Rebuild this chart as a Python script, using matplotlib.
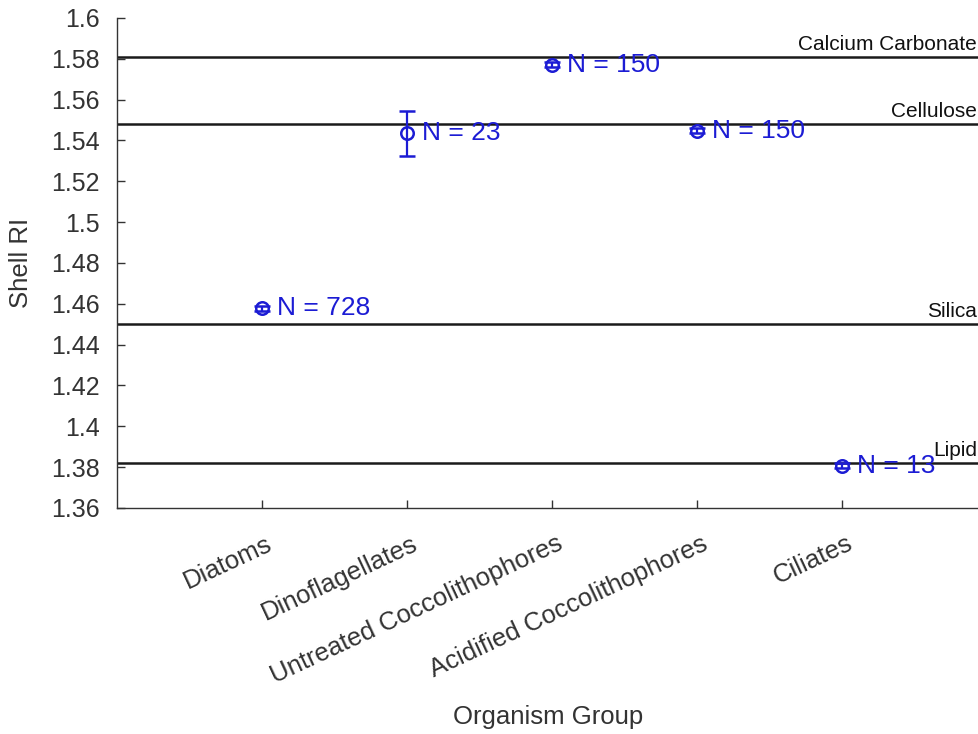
import matplotlib
matplotlib.use('Agg')
import matplotlib.pyplot as plt
import matplotlib.transforms as mtransforms
from matplotlib.ticker import FuncFormatter

plt.rcParams['font.family'] = ['Liberation Sans', 'DejaVu Sans']

groups = ['Diatoms', 'Dinoflagellates', 'Untreated Coccolithophores',
          'Acidified Coccolithophores', 'Ciliates']
mean_ri = [1.4577, 1.5435, 1.5770, 1.5448, 1.3807]
err_ri = [0.0012, 0.0110, 0.0012, 0.0012, 0.0012]
n_labels = ['N = 728', 'N = 23', 'N = 150', 'N = 150', 'N = 13']

ref_names = ['Calcium Carbonate', 'Cellulose', 'Silica', 'Lipid']
ref_ri = [1.581, 1.548, 1.450, 1.382]

blue = '#1c1cd4'
grey = '#333333'

fig = plt.figure(figsize=(9.79, 7.34), dpi=100)
ax = fig.add_axes([0.1195, 0.308, 0.8805, 0.6675])

for name, val in zip(ref_names, ref_ri):
    ax.axhline(val, color='#1a1a1a', lw=1.8, zorder=1)
    ax.text(5.93, val + 0.0015, name, ha='right', va='bottom', fontsize=15,
            color='#111111')

x = list(range(1, len(groups) + 1))
ax.errorbar(x, mean_ri, yerr=err_ri, fmt='o', mfc='none', mec=blue, ms=9,
            mew=1.8, ecolor=blue, elinewidth=1.6, capsize=6, capthick=1.6,
            zorder=3)
for xi, yi, lab in zip(x, mean_ri, n_labels):
    ax.text(xi + 0.1, yi, lab, color=blue, fontsize=19, ha='left',
            va='center', zorder=4)

ax.set_xlim(0, 5.943)
ax.set_ylim(1.36, 1.6)
ax.set_yticks([1.36 + 0.02 * i for i in range(13)])
ax.yaxis.set_major_formatter(FuncFormatter(lambda v, p: '%g' % round(v, 2)))
ax.set_xticks(x)
ax.set_xticklabels(groups, rotation=25, ha='right', va='top',
                   rotation_mode='anchor')

ax.spines['top'].set_visible(False)
ax.spines['right'].set_visible(False)
for s in ['left', 'bottom']:
    ax.spines[s].set_color(grey)
    ax.spines[s].set_linewidth(1.0)
ax.tick_params(direction='in', length=6, width=1, colors=grey,
               labelsize=18, pad=12.5)
ax.tick_params(axis='x', labelsize=18.5, pad=17)
shift = mtransforms.ScaledTranslation(4 / 100, 0, fig.dpi_scale_trans)
for lbl in ax.get_xticklabels():
    lbl.set_transform(lbl.get_transform() + shift)

ax.set_xlabel('Organism Group', fontsize=18.5, color=grey, labelpad=12)
ax.set_ylabel('Shell RI', fontsize=18.5, color=grey, labelpad=13)

fig.savefig('out.png', dpi=100)
